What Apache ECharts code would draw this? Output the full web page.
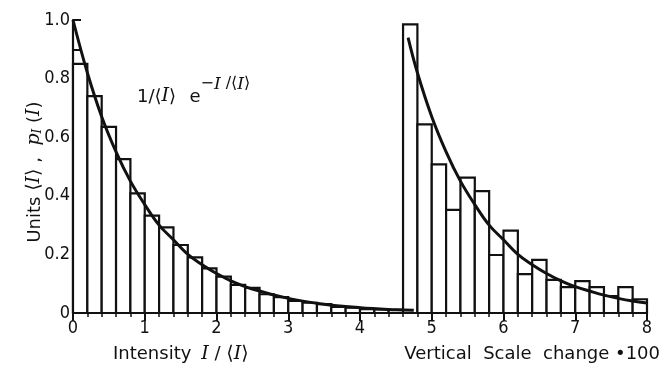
<!DOCTYPE html>
<html>
<head>
<meta charset="utf-8">
<script src="https://cdn.jsdelivr.net/npm/echarts@6/dist/echarts.min.js"></script>
<style>html,body{margin:0;padding:0;background:#fff}#c{width:661px;height:376px}</style>
</head>
<body>
<div id="c"></div>
<script>
// Histogram bins (left edge, right edge) and heights
var leftBinStart = [0,0.2,0.4,0.6,0.8,1.0,1.2,1.4,1.6,1.8,2.0,2.2,2.4,2.6,2.8,3.0,3.2,3.4,3.6,3.8,4.0,4.2,4.4];
var leftBinEnd   = [0.2,0.4,0.6,0.8,1.0,1.2,1.4,1.6,1.8,2.0,2.2,2.4,2.6,2.8,3.0,3.2,3.4,3.6,3.8,4.0,4.2,4.4,4.6];
var leftHeights  = [0.85,0.74,0.635,0.525,0.408,0.332,0.292,0.232,0.19,0.152,0.124,0.096,0.086,0.064,0.054,0.041,0.035,0.03,0.021,0.018,0.013,0.012,0.011];

var rightBinStart = [4.6,4.8,5.0,5.2,5.4,5.6,5.8,6.0,6.2,6.4,6.6,6.8,7.0,7.2,7.4,7.6,7.8];
var rightBinEnd   = [4.8,5.0,5.2,5.4,5.6,5.8,6.0,6.2,6.4,6.6,6.8,7.0,7.2,7.4,7.6,7.8,8.0];
var rightHeights  = [0.985,0.644,0.507,0.352,0.462,0.416,0.198,0.281,0.133,0.181,0.113,0.088,0.109,0.088,0.058,0.088,0.047];

// Fitted curves
var leftCurveX = [0,0.2,0.4,0.6,0.8,1.0,1.2,1.4,1.6,1.8,2.0,2.2,2.5,3.0,3.5,4.0,4.5,4.75];
var leftCurveY = [1.0,0.82,0.67,0.55,0.45,0.37,0.30,0.25,0.20,0.165,0.135,0.11,0.082,0.05,0.03,0.018,0.011,0.009];
var rightCurveX = [4.67,4.8,5.0,5.2,5.4,5.6,5.8,6.0,6.2,6.4,6.6,6.8,7.0,7.2,7.4,7.6,7.8,8.0];
var rightCurveY = [0.94,0.82,0.67,0.55,0.45,0.37,0.30,0.25,0.20,0.165,0.135,0.11,0.09,0.075,0.061,0.05,0.041,0.034];

// Tick labels
var xTickLabels = ['0','1','2','3','4','5','6','7','8'];
var yTickLabels = {0:'0',0.2:'0.2',0.4:'0.4',0.6:'0.6',0.8:'0.8',1:'1.0'};

function zip3(a,b,c){var o=[];for(var i=0;i<a.length;i++)o.push([a[i],b[i],c[i]]);return o;}
function zip2(a,b){var o=[];for(var i=0;i<a.length;i++)o.push([a[i],b[i]]);return o;}

var tickFont = "'Liberation Sans Narrow','DejaVu Sans Condensed','DejaVu Sans',sans-serif";
var sans = "'DejaVu Sans',sans-serif";
var serif = "'DejaVu Serif','Liberation Serif',serif";
var ink = '#111';

function barRender(params, api){
  var x0 = api.value(0), x1 = api.value(1), h = api.value(2);
  var p0 = api.coord([x0, 0]);
  var p1 = api.coord([x1, h]);
  return {
    type:'rect',
    shape:{x:p0[0], y:p1[1], width:p1[0]-p0[0], height:p0[1]-p1[1]},
    style:{fill:'#fff', stroke:ink, lineWidth:2.2}
  };
}

var chart = echarts.init(document.getElementById('c'), null, {renderer:'canvas'});
var opt = {
  backgroundColor:'#fff',
  animation:false,
  grid:{left:73, right:14, top:20, bottom:63},
  xAxis:{
    type:'value', min:0, max:8, interval:1,
    axisLine:{lineStyle:{color:ink, width:2.2}},
    axisTick:{inside:false, length:8, lineStyle:{color:ink, width:2}},
    minorTick:{show:true, splitNumber:5, length:4, lineStyle:{color:ink, width:1.5}},
    splitLine:{show:false},
    axisLabel:{color:ink, fontSize:18, fontFamily:tickFont, margin:6,
      formatter:function(v){return xTickLabels[Math.round(v)];}}
  },
  yAxis:{
    type:'value', min:0, max:1, interval:0.2,
    axisLine:{show:true, lineStyle:{color:ink, width:2.2}},
    axisTick:{show:true, inside:true, length:8, lineStyle:{color:ink, width:2}},
    minorTick:{show:true, splitNumber:2, length:8, lineStyle:{color:ink, width:2}},
    splitLine:{show:false},
    axisLabel:{color:ink, fontSize:18, fontFamily:tickFont, margin:3,
      formatter:function(v){var k=Math.round(v*10)/10;return yTickLabels[k];}}
  },
  series:[
    {type:'custom', renderItem:barRender, data:zip3(leftBinStart,leftBinEnd,leftHeights), encode:{x:[0,1],y:2}, z:2},
    {type:'custom', renderItem:barRender, data:zip3(rightBinStart,rightBinEnd,rightHeights), encode:{x:[0,1],y:2}, z:2},
    {type:'line', data:zip2(leftCurveX,leftCurveY), smooth:0.4, showSymbol:false, lineStyle:{color:ink,width:3}, z:5},
    {type:'line', data:zip2(rightCurveX,rightCurveY), smooth:0.4, showSymbol:false, lineStyle:{color:ink,width:3}, z:5}
  ],
  graphic:[
    {type:'text', left:113, top:345, style:{
      text:'{n|Intensity}   {i|I}{n| / }{b|⟨}{i|I}{b|⟩}',
      rich:{n:{fontFamily:sans, fontSize:18, fill:ink},
            i:{fontStyle:'italic', fontFamily:serif, fontSize:19, fill:ink},
            b:{fontFamily:sans, fontSize:19, fill:ink}}
    }},
    {type:'text', right:1, top:345, style:{
      text:'Vertical  Scale  change •100',
      fontFamily:sans, fontSize:18, fill:ink
    }},
    {type:'text', left:137, top:76, style:{
      text:'{n|1/⟨}{i|I}{n|⟩}    {n|e}{s|−}{si|I}{s| /⟨}{si|I}{s|⟩}',
      rich:{n:{fontFamily:sans, fontSize:18, fill:ink, verticalAlign:'bottom', lineHeight:30},
            i:{fontStyle:'italic', fontFamily:serif, fontSize:19, fill:ink, verticalAlign:'bottom', lineHeight:30},
            s:{fontFamily:sans, fontSize:16, fill:ink, verticalAlign:'top', lineHeight:30},
            si:{fontStyle:'italic', fontFamily:serif, fontSize:17, fill:ink, verticalAlign:'top', lineHeight:30}}
    }},
    {type:'text', x:31, y:172, rotation:Math.PI/2, style:{
      text:'{n|Units }{b|⟨}{i|I}{b|⟩}{n| ,  }{i|p}{sub|I}{n| (}{i|I}{n|)}',
      align:'center', verticalAlign:'middle',
      rich:{n:{fontFamily:sans, fontSize:18, fill:ink, verticalAlign:'bottom', lineHeight:26},
            b:{fontFamily:sans, fontSize:19, fill:ink, verticalAlign:'bottom', lineHeight:26},
            i:{fontStyle:'italic', fontFamily:serif, fontSize:19, fill:ink, verticalAlign:'bottom', lineHeight:26},
            sub:{fontStyle:'italic', fontFamily:serif, fontSize:12, fill:ink, verticalAlign:'bottom', lineHeight:20}}
    }}
  ]
};
chart.setOption(opt);
</script>
</body>
</html>
